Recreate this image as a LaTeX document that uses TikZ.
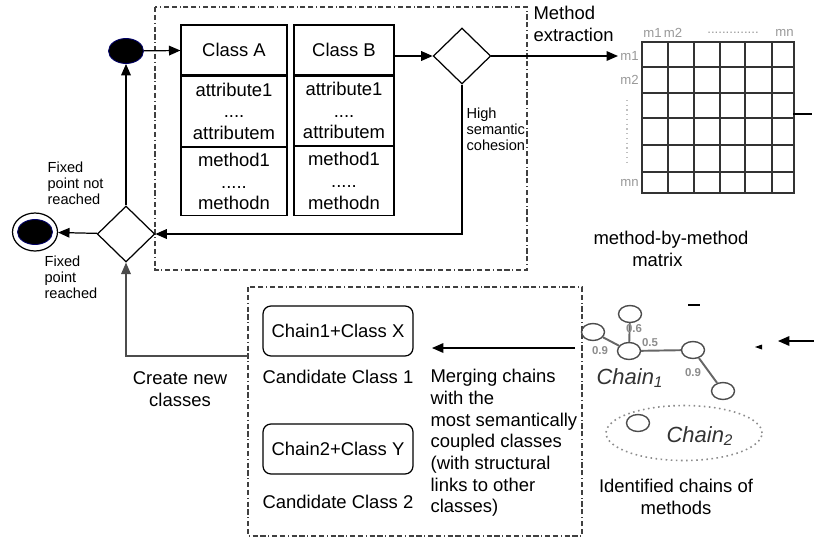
\documentclass[tikz,border=0pt]{standalone}
\usepackage{fontspec}
\setmainfont{Liberation Sans}
\usetikzlibrary{positioning,shapes.geometric,arrows.meta}

\begin{document}
\begin{tikzpicture}[x=0.02cm,y=-0.02cm,line width=0.7pt,
        >={Triangle[length=6.5pt,width=5.5pt]},
        every node/.style={font=\fontsize{10.5}{12.3}\selectfont},
        frame/.style={draw=black!75,line width=0.6pt,dash pattern=on 3pt off 1.5pt on 3pt off 1.5pt on 0.6pt off 1.5pt},
        blob/.style={ellipse,fill=black,draw=blue!40!black,line width=0.5pt,inner sep=0pt,minimum width=0.7cm,minimum height=0.5cm},
        clshead/.style={draw,minimum height=1cm,inner sep=1pt},
        clsbody/.style={draw,align=center,inner sep=1pt},
        decision/.style={diamond,draw,inner sep=0pt,minimum width=1.15cm,minimum height=1.12cm},
        candbox/.style={draw,rounded corners=4.5pt,minimum width=3cm,minimum height=1cm},
        smalltxt/.style={font=\fontsize{8.3}{9.2}\selectfont,align=left,inner sep=0pt},
        mlabel/.style={font=\fontsize{7.5}{8}\selectfont,text=black!40,inner sep=1pt},
        mnode/.style={ellipse,draw=black!70,line width=0.8pt,inner sep=0pt,minimum width=0.46cm,minimum height=0.34cm},
        gedge/.style={draw=black!60,line width=1.1pt},
        chainname/.style={font=\fontsize{12.5}{13}\selectfont\itshape,text=black!80,inner sep=0pt},
        wlabel/.style={font=\fontsize{6.5}{7}\selectfont\bfseries,text=black!45,inner sep=0pt}]

        \useasboundingbox (0,0) rectangle (814,538);

        \draw[frame] (155,7) rectangle (527,270);
        \draw[frame] (248,287) rectangle (582,536);

        \node[blob] (start) at (126,51) {};
        \node[ellipse,draw,inner sep=0pt,minimum width=0.9cm,minimum height=0.76cm] (stop) at (35,232) {};
        \node[blob] (stopin) at (35,232) {};

        \node[clshead,minimum width=2.12cm] (clsA) at (234,50) {Class A};
        \node[clsbody,minimum width=2.12cm,minimum height=1.4cm,below=0pt of clsA] (attrA) {attribute1\\....\\attributem};
        \node[clsbody,minimum width=2.12cm,minimum height=1.36cm,below=0pt of attrA] (methA) {method1\\.....\\methodn};

        \node[clshead,minimum width=2cm] (clsB) at (344,50) {Class B};
        \node[clsbody,minimum width=2cm,minimum height=1.38cm,below=0pt of clsB] (attrB) {attribute1\\....\\attributem};
        \node[clsbody,minimum width=2cm,minimum height=1.38cm,below=0pt of attrB] (methB) {method1\\.....\\methodn};

        \node[decision] (dec1) at (462,56) {};
        \node[decision] (dec2) at (126,234) {};

        \node[align=left,anchor=west,inner sep=0pt] (extract) at (533,24) {Method\\extraction};
        \node[smalltxt,anchor=west] (cohesion) at (466,129) {High\\semantic\\cohesion};
        \node[smalltxt,anchor=west] (notreached) at (47,183) {Fixed\\point not\\reached};
        \node[smalltxt,anchor=west] (reached) at (44,277) {Fixed\\point\\reached};

        \draw[line width=1.1pt,black!80] (642,42) rectangle (794,193);
        \draw[line width=1.1pt,black!80] (668,42) -- (668,193) (694,42) -- (694,193) (720,42) -- (720,193)
                (745,42) -- (745,193) (772,42) -- (772,193);
        \draw[line width=1.1pt,black!80] (642,67) -- (794,67) (642,93) -- (794,93) (642,118) -- (794,118)
                (642,145) -- (794,145) (642,172) -- (794,172);
        \node[mlabel,anchor=west] (mcol1) at (641,33) {m1\,m2};
        \node[mlabel] (mcoldots) at (733,33) {..............};
        \node[mlabel,anchor=east] (mcoln) at (796,33) {mn};
        \node[mlabel,anchor=east] (mrow1) at (641,56) {m1};
        \node[mlabel,anchor=east] (mrow2) at (641,80) {m2};
        \node[mlabel,anchor=east] (mrown) at (641,183) {mn};
        \draw[black!25,dotted] (627,100) -- (627,165);
        \draw (793,114) -- (812,114);
        \node[align=left,anchor=west,inner sep=0pt] (mtxcap) at (593,249) {method-by-method\\\hspace{22pt}matrix};

        \draw[->] (start) -- (clsA);
        \draw[->] (clsB.east |- dec1) -- (dec1);
        \draw[->] (dec1) -- (mrow1);
        \draw[->] (dec1.south) |- (dec2.east);
        \draw[->] (dec2) -- (start);
        \draw[->] (dec2) -- (stop);

        \node[candbox] (cand1) at (338,331) {Chain1+Class X};
        \node (cand1lbl) at (338,377) {Candidate Class 1};
        \node[candbox] (cand2) at (338,449) {Chain2+Class Y};
        \node (cand2lbl) at (338,502) {Candidate Class 2};
        \node[align=center] (newcls) at (180,389) {Create new\\classes};
        \node[align=left,anchor=west,inner sep=0pt] (merge) at (430,443) {Merging chains\\with the\\most semantically\\coupled classes\\(with structural\\links to other\\classes)};

        \coordinate (newfrom) at (248,356);
        \draw[->,black!70] (newfrom) -| (dec2.south);
        \coordinate (mergefrom) at (575,348);
        \coordinate (mergeto) at (432,348);
        \draw[->] (mergefrom) -- (mergeto);

        \node[mnode] (n1) at (593,332) {};
        \node[mnode] (n2) at (630,314) {};
        \node[mnode] (n3) at (629,351) {};
        \node[mnode] (n4) at (693,350) {};
        \node[mnode] (n5) at (723,391) {};
        \node[mnode] (n6) at (638,423) {};
        \draw[gedge] (n1) -- (n3);
        \draw[gedge] (n2) -- (n3);
        \draw[gedge] (n3) -- (n4);
        \draw[gedge] (n4) -- (n5);
        \node[wlabel] (w13) at (600,351) {0.9};
        \node[wlabel] (w23) at (634,329) {0.6};
        \node[wlabel] (w34) at (650,343) {0.5};
        \node[wlabel] (w45) at (693,373) {0.9};
        \node[chainname] (chain1) at (630,378) {Chain\textsubscript{1}};
        \node[ellipse,draw=black!45,dotted,line width=0.9pt,inner sep=0pt,minimum width=3.12cm,minimum height=1.1cm] (chain2box) at (684,433) {};
        \node[chainname] (chain2) at (700,436) {Chain\textsubscript{2}};
        \node[align=center] (chaincap) at (676,497) {Identified chains of\\methods};

        \draw (688,305) -- (700,305);
        \fill (755,347) -- (762,344.5) -- (762,349.5) -- cycle;
        \coordinate (rightfrom) at (814,341);
        \coordinate (rightto) at (778,341);
        \draw[->] (rightfrom) -- (rightto);

\end{tikzpicture}
\end{document}
